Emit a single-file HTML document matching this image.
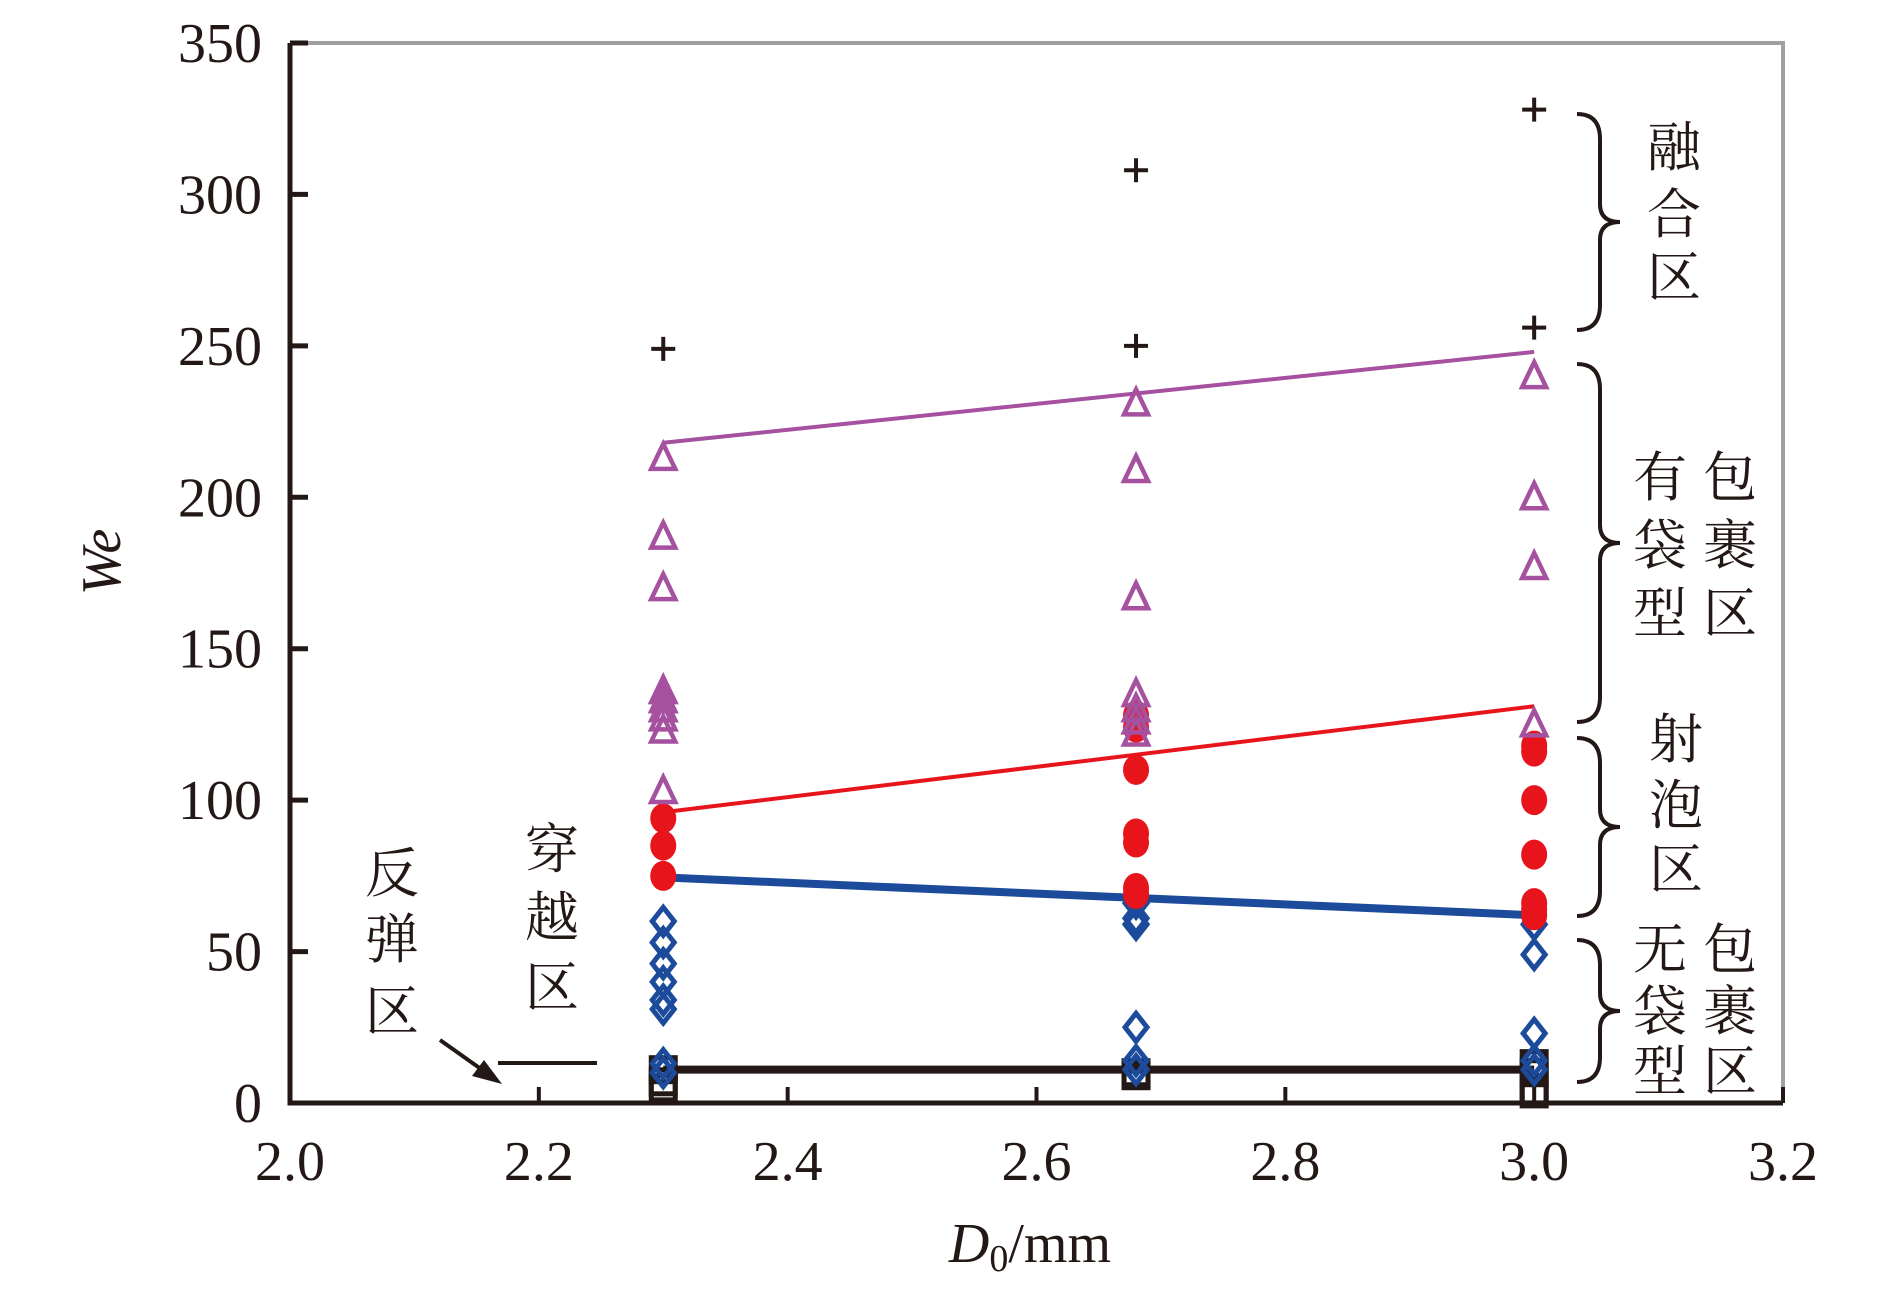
<!DOCTYPE html>
<html><head><meta charset="utf-8"><style>
html,body{margin:0;padding:0;background:#fff;}
svg{display:block;}
.t{font-family:"Liberation Serif",serif;font-size:56px;fill:#231815;}
.c{font-family:"Liberation Serif","Noto Serif CJK SC",serif;font-size:54px;fill:#231815;}
</style></head><body>
<svg id="chart" width="1890" height="1300" viewBox="0 0 1890 1300" xmlns="http://www.w3.org/2000/svg">
<g id="frame"></g>
<g id="axes"></g>
<g id="fits"></g>
<g id="marks"></g>
<g id="ann"></g>
</svg>
<script>
const xTicks=[2.0,2.2,2.4,2.6,2.8,3.0,3.2];
const xTickLabels=["2.0","2.2","2.4","2.6","2.8","3.0","3.2"];
const yTicks=[0,50,100,150,200,250,300,350];
const yTickLabels=["0","50","100","150","200","250","300","350"];
const plusX=[2.3,2.68,2.68,3.0,3.0];
const plusY=[249,308,250,328,256];
const triX=[2.3,2.3,2.3,2.3,2.3,2.3,2.3,2.3,2.3,2.68,2.68,2.68,2.68,2.68,2.68,2.68,3.0,3.0,3.0,3.0];
const triY=[213,187,170,136,133,130,127,123,103,231,209,167,135,130,126,122,240,200,177,125];
const circX=[2.3,2.3,2.3,2.68,2.68,2.68,2.68,2.68,2.68,2.68,3.0,3.0,3.0,3.0,3.0,3.0,3.0];
const circY=[94,85,75,128,124,110,89,86,71,69,118,116,100,82,66,64,62];
const diaX=[2.3,2.3,2.3,2.3,2.3,2.3,2.3,2.3,2.68,2.68,2.68,2.68,2.68,2.68,3.0,3.0,3.0,3.0,3.0];
const diaY=[60,53,46,40,34,31,13,10,66,61,59,25,14,11,59,49,23,14,11];
const sqX=[2.3,2.3,2.3,2.68,2.68,3.0,3.0,3.0,3.0];
const sqY=[11,7,5,10,9,13,10,4,3];
const fitX=[2.3,3.0];
const fitPurple=[218,248];
const fitRed=[96,131];
const fitBlue=[74.5,62];
const fitBlack=[11,11];

const NS="http://www.w3.org/2000/svg";
const X=v=>290+(v-2.0)/1.2*1493;
const Y=v=>1103-v/350*1060;
function mk(tag,parent,at){const e=document.createElementNS(NS,tag);for(const k in at)e.setAttribute(k,at[k]);parent.appendChild(e);return e;}
const frame=document.getElementById('frame'),axes=document.getElementById('axes'),fits=document.getElementById('fits'),marks=document.getElementById('marks'),ann=document.getElementById('ann');

let f=mk('path',frame,{d:`M${X(2.0)},${Y(350)}H${X(3.2)}V${Y(0)}`,fill:'none',stroke:'#a0a0a0','stroke-width':4});


let ax=mk('path',axes,{d:`M${X(2.0)},${Y(350)}V${Y(0)}H${X(3.2)}`,fill:'none',stroke:'#231815','stroke-width':5});


xTicks.forEach((v,i)=>{
  let t=mk('line',axes,{x1:X(v),x2:X(v),y1:Y(0),y2:Y(0)-16,stroke:'#231815','stroke-width':4});
  
  
  let l=mk('text',axes,{x:X(v),y:1180,'text-anchor':'middle',class:'t'});l.textContent=xTickLabels[i];
  
  
});
yTicks.forEach((v,i)=>{
  let t=mk('line',axes,{x1:X(2.0),x2:X(2.0)+18,y1:Y(v),y2:Y(v),stroke:'#231815','stroke-width':5});
  
  
  let l=mk('text',axes,{x:262,y:Y(v)+19,'text-anchor':'end',class:'t'});l.textContent=yTickLabels[i];
  
  
});
let xt=mk('text',axes,{x:1030,y:1262,'text-anchor':'middle',class:'t'});
xt.innerHTML='<tspan font-style="italic">D</tspan><tspan font-size="38" dy="9">0</tspan><tspan dy="-9">/mm</tspan>';


let yt=mk('text',axes,{x:0,y:0,'text-anchor':'middle',class:'t','font-style':'italic',transform:'translate(120,562) rotate(-90)'});
yt.textContent='We';



function fit(vals,color,w,name){
  let l=mk('line',fits,{x1:X(fitX[0]),y1:Y(vals[0]),x2:X(fitX[1]),y2:Y(vals[1]),stroke:color,'stroke-width':w});
  
  
}
fit(fitPurple,'#a5519f',4,'fit-line-purple');
fit(fitRed,'#e8141b',4,'fit-line-red');
fit(fitBlue,'#1c4b9c',8,'fit-line-blue');
fit(fitBlack,'#231815',8,'fit-line-black');

sqX.forEach((x,i)=>{const cx=X(x),cy=Y(sqY[i]);
  let e=mk('rect',marks,{x:cx-12,y:cy-12,width:24,height:24,fill:'none',stroke:'#231815','stroke-width':5});
  
  });
diaX.forEach((x,i)=>{const cx=X(x),cy=Y(diaY[i]);
  let e=mk('path',marks,{d:`M${cx},${cy-14}L${cx+11},${cy}L${cx},${cy+14}L${cx-11},${cy}Z`,fill:'none',stroke:'#1c4b9c','stroke-width':5});
  
  });
circX.forEach((x,i)=>{const cx=X(x),cy=Y(circY[i]);
  let e=mk('ellipse',marks,{cx:cx,cy:cy,rx:13,ry:15,fill:'#e8141b'});
  
  });
triX.forEach((x,i)=>{const cx=X(x),cy=Y(triY[i]);
  let e=mk('path',marks,{d:`M${cx},${cy-14}L${cx+12},${cy+11}L${cx-12},${cy+11}Z`,fill:'none',stroke:'#a5519f','stroke-width':4.5});
  
  });
plusX.forEach((x,i)=>{const cx=X(x),cy=Y(plusY[i]);
  let e=mk('path',marks,{d:`M${cx-12},${cy}H${cx+12}M${cx},${cy-12}V${cy+12}`,fill:'none',stroke:'#231815','stroke-width':4});
  
  });

function brace(top,bot,name){
  const mid=(top+bot)/2,x0=1577,x1=1600,xt=1620;
  let e=mk('path',ann,{d:`M${x0},${top}Q${x1},${top} ${x1},${top+25}V${mid-18}Q${x1},${mid} ${xt},${mid}Q${x1},${mid} ${x1},${mid+18}V${bot-25}Q${x1},${bot} ${x0},${bot}`,fill:'none',stroke:'#231815','stroke-width':4});
  
  
}
brace(114,330,'brace-fusion');
brace(364,722,'brace-wrapped');
brace(738,916,'brace-jet');
brace(940,1082,'brace-nonwrapped');

function label(chars,x,ys,name){
  const g=mk('g',ann,{});
  
  
  chars.forEach((c,i)=>{let t=mk('text',g,{x:x,y:ys[i],'text-anchor':'middle',class:'c'});t.textContent=c;});
}
label(['融','合','区'],1674,[166,233,296],'label-fusion-zone');
label(['有','袋','型'],1660,[496,564,632],'label-wrapped-zone-col1');
label(['包','裹','区'],1730,[496,564,632],'label-wrapped-zone-col2');
label(['射','泡','区'],1676,[758,824,888],'label-jet-zone');
label(['无','袋','型'],1660,[968,1030,1090],'label-nonwrapped-zone-col1');
label(['包','裹','区'],1730,[968,1030,1090],'label-nonwrapped-zone-col2');
label(['穿','越','区'],552,[868,936,1006],'label-penetration-zone');
label(['反','弹','区'],392,[892,958,1030],'label-bounce-zone');

let sl=mk('line',ann,{x1:498,y1:1063,x2:597,y2:1063,stroke:'#231815','stroke-width':4});


let ar=mk('line',ann,{x1:440,y1:1040,x2:488,y2:1074,stroke:'#231815','stroke-width':4});


let ah=mk('path',ann,{d:'M502,1084L472,1076L484,1060Z',fill:'#231815'});


</script>
</body></html>
